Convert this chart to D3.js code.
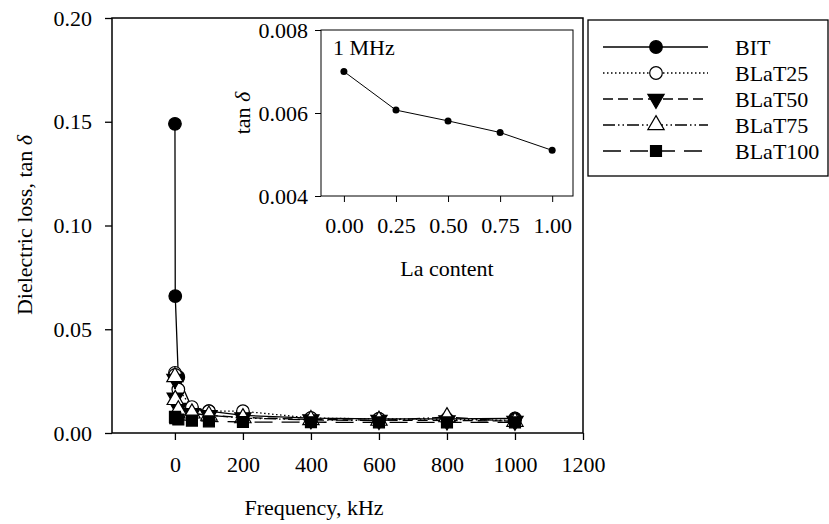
<!DOCTYPE html>
<html>
<head>
<meta charset="utf-8">
<script src="https://cdn.jsdelivr.net/npm/d3@7"></script>
<style>
  body { margin: 0; background: #fff; }
  svg text { font-family: "Liberation Serif", "Times New Roman", serif; fill: #000; }
</style>
</head>
<body>
<div class="chart"></div>
<script>
// data
var freq = [0.1, 1, 10, 50, 100, 200, 400, 600, 800, 1000];
var bitVals = [0.149, 0.066, 0.027, 0.012, 0.0105, 0.0085, 0.0072, 0.0068, 0.0068, 0.0070];
var blat25Vals = [0.029, 0.028, 0.021, 0.0125, 0.0105, 0.0105, 0.0072, 0.0068, 0.0066, 0.0061];
var blat50Vals = [0.026, 0.017, 0.012, 0.0095, 0.0085, 0.0075, 0.0065, 0.0062, 0.0060, 0.0058];
var blat75Vals = [0.027, 0.016, 0.011, 0.0095, 0.0085, 0.0072, 0.0063, 0.0060, 0.0077, 0.0055];
var blat100Vals = [0.0078, 0.0072, 0.0065, 0.0060, 0.0056, 0.0053, 0.0052, 0.0051, 0.0051, 0.0051];
var seriesNames = ["BIT", "BLaT25", "BLaT50", "BLaT75", "BLaT100"];

var xTicks = [0, 200, 400, 600, 800, 1000, 1200];
var yTicks = [0, 0.05, 0.10, 0.15, 0.20];

// inset (1 MHz)
var laContent = [0, 0.25, 0.5, 0.75, 1.0];
var tan1MHz = [0.0070, 0.00607, 0.00581, 0.00553, 0.00510];
var insetXTicks = [0, 0.25, 0.5, 0.75, 1.0];
var insetYTicks = [0.004, 0.006, 0.008];

var svgWidth = 829;
var svgHeight = 524;

var svg = d3.select(".chart")
  .append("svg")
  .attr("width", svgWidth)
  .attr("height", svgHeight);

// marker + line style per series
var styles = [
  { symbol: d3.symbolCircle, fill: "#000", rotate: 0, dash: null, size: 125 },
  { symbol: d3.symbolCircle, fill: "#fff", rotate: 0, dash: "1.5,2.5", size: 125 },
  { symbol: d3.symbolTriangle, fill: "#000", rotate: 180, dash: "10,5", size: 115 },
  { symbol: d3.symbolTriangle, fill: "#fff", rotate: 0, dash: "12,3,1.5,3,1.5,3", size: 115 },
  { symbol: d3.symbolSquare, fill: "#000", rotate: 0, dash: "18,9", size: 120 }
];
var allVals = [bitVals, blat25Vals, blat50Vals, blat75Vals, blat100Vals];

// main scales
var x = d3.scaleLinear().domain([-185, 1200]).range([112, 583]);
var y = d3.scaleLinear().domain([0, 0.2]).range([433, 18]);

var xAxis = svg.append("g")
  .attr("transform", "translate(0,433)")
  .call(d3.axisBottom(x).tickValues(xTicks).tickSize(7).tickPadding(16).tickFormat(d3.format("d")));
var yAxis = svg.append("g")
  .attr("transform", "translate(112,0)")
  .call(d3.axisLeft(y).tickValues(yTicks).tickSize(7).tickPadding(13).tickFormat(d3.format(".2f")));

[xAxis, yAxis].forEach(function(a) {
  a.select(".domain").remove();
  a.selectAll("line").attr("stroke", "#000").attr("stroke-width", 1.3);
  a.selectAll("text").attr("font-size", "22px").attr("font-family", "Liberation Serif");
});

svg.append("rect")
  .attr("x", 112).attr("y", 18)
  .attr("width", 583 - 112).attr("height", 433 - 18)
  .attr("fill", "none").attr("stroke", "#000").attr("stroke-width", 1.5);

// series
var line = d3.line()
  .x(function(d) { return x(d[0]); })
  .y(function(d) { return y(d[1]); });

allVals.forEach(function(vals, i) {
  var pts = freq.map(function(f, j) { return [f, vals[j]]; });
  var st = styles[i];
  svg.append("path")
    .datum(pts)
    .attr("d", line)
    .attr("fill", "none")
    .attr("stroke", "#000")
    .attr("stroke-width", 1.3)
    .attr("stroke-dasharray", st.dash);
  svg.append("g").selectAll("path")
    .data(pts)
    .enter()
    .append("path")
    .attr("d", d3.symbol().type(st.symbol).size(st.size))
    .attr("transform", function(d) { return "translate(" + x(d[0]) + "," + y(d[1]) + ") rotate(" + st.rotate + ")"; })
    .attr("fill", st.fill)
    .attr("stroke", "#000")
    .attr("stroke-width", 1.2);
});

// axis titles
svg.append("text")
  .attr("x", 314).attr("y", 515)
  .attr("text-anchor", "middle")
  .attr("font-size", "22px")
  .text("Frequency, kHz");

var yTitle = svg.append("text")
  .attr("transform", "translate(32,225) rotate(-90)")
  .attr("text-anchor", "middle")
  .attr("font-size", "22px");
yTitle.append("tspan").text("Dielectric loss, tan ");
yTitle.append("tspan").attr("font-style", "italic").text("δ");

// inset
var ix = d3.scaleLinear().domain([-0.11, 1.10]).range([321, 573]);
var iy = d3.scaleLinear().domain([0.004, 0.008]).range([196, 30]);

var ixAxis = svg.append("g")
  .attr("transform", "translate(0,196)")
  .call(d3.axisBottom(ix).tickValues(insetXTicks).tickSize(6).tickPadding(15).tickFormat(d3.format(".2f")));
var iyAxis = svg.append("g")
  .attr("transform", "translate(321,0)")
  .call(d3.axisLeft(iy).tickValues(insetYTicks).tickSize(6).tickPadding(7).tickFormat(d3.format(".3f")));

[ixAxis, iyAxis].forEach(function(a) {
  a.select(".domain").remove();
  a.selectAll("line").attr("stroke", "#000").attr("stroke-width", 1);
  a.selectAll("text").attr("font-size", "22px").attr("font-family", "Liberation Serif");
});

svg.append("rect")
  .attr("x", 321).attr("y", 30)
  .attr("width", 573 - 321).attr("height", 196 - 30)
  .attr("fill", "none").attr("stroke", "#000").attr("stroke-width", 1);

var insetPts = laContent.map(function(l, j) { return [l, tan1MHz[j]]; });
svg.append("path")
  .datum(insetPts)
  .attr("d", d3.line().x(function(d) { return ix(d[0]); }).y(function(d) { return iy(d[1]); }))
  .attr("fill", "none")
  .attr("stroke", "#000")
  .attr("stroke-width", 1);
svg.append("g").selectAll("circle")
  .data(insetPts)
  .enter()
  .append("circle")
  .attr("cx", function(d) { return ix(d[0]); })
  .attr("cy", function(d) { return iy(d[1]); })
  .attr("r", 3.5)
  .attr("fill", "#000");

svg.append("text")
  .attr("x", 333).attr("y", 55)
  .attr("font-size", "22px")
  .text("1 MHz");

svg.append("text")
  .attr("x", 447).attr("y", 276)
  .attr("text-anchor", "middle")
  .attr("font-size", "22px")
  .text("La content");

var iyTitle = svg.append("text")
  .attr("transform", "translate(250,113) rotate(-90)")
  .attr("text-anchor", "middle")
  .attr("font-size", "22px");
iyTitle.append("tspan").text("tan ");
iyTitle.append("tspan").attr("font-style", "italic").text("δ");

// legend
svg.append("rect")
  .attr("x", 588).attr("y", 20)
  .attr("width", 240).attr("height", 156)
  .attr("fill", "#fff").attr("stroke", "#000").attr("stroke-width", 1.3);

var legendY = d3.scalePoint().domain(seriesNames).range([47, 151]);

seriesNames.forEach(function(name, i) {
  var st = styles[i];
  var ly = legendY(name);
  svg.append("line")
    .attr("x1", 603).attr("x2", 708)
    .attr("y1", ly).attr("y2", ly)
    .attr("stroke", "#000")
    .attr("stroke-width", 1.3)
    .attr("stroke-dasharray", st.dash);
  svg.append("path")
    .attr("d", d3.symbol().type(st.symbol).size(st.size))
    .attr("transform", "translate(656," + ly + ") rotate(" + st.rotate + ")")
    .attr("fill", st.fill)
    .attr("stroke", "#000")
    .attr("stroke-width", 1.2);
  svg.append("text")
    .attr("x", 735).attr("y", ly)
    .attr("dy", "0.35em")
    .attr("font-size", "22px")
    .text(name);
});
</script>
</body>
</html>
